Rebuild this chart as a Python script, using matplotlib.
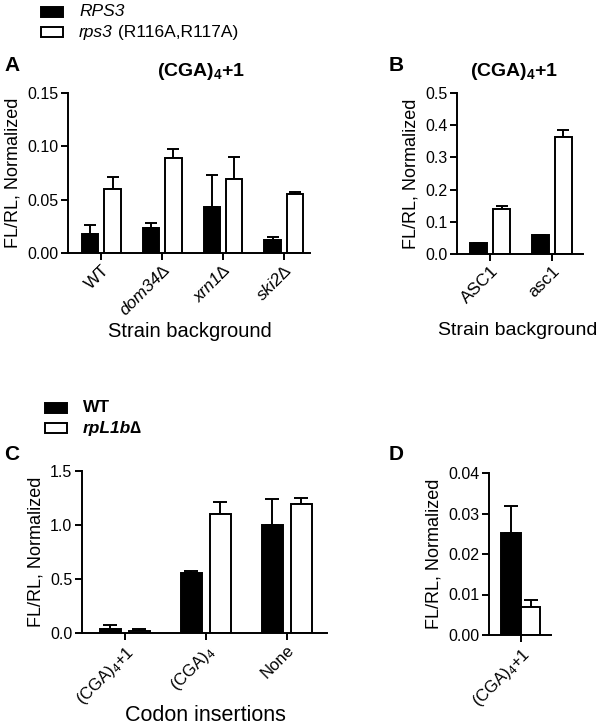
import matplotlib
matplotlib.use("Agg")
import matplotlib.pyplot as plt
from matplotlib.patches import Rectangle
from matplotlib.text import Annotation
import numpy as np

plt.rcParams['font.family'] = ['Liberation Sans', 'DejaVu Sans']
plt.rcParams['mathtext.fontset'] = 'custom'
plt.rcParams['mathtext.rm'] = 'Liberation Sans'
plt.rcParams['mathtext.it'] = 'Liberation Sans:italic'
plt.rcParams['mathtext.bf'] = 'Liberation Sans:bold'

# ---------------- data ----------------
a_categories = ["WT", "dom34∆", "xrn1∆", "ski2∆"]
a_italic = [False, True, True, True]
a_rps3_wt = [0.0175, 0.0235, 0.0435, 0.0125]
a_rps3_wt_err = [0.0088, 0.0045, 0.0295, 0.0022]
a_rps3_mut = [0.0600, 0.0886, 0.0690, 0.0554]
a_rps3_mut_err = [0.0117, 0.0088, 0.0210, 0.0022]

b_categories = ["ASC1", "asc1"]
b_rps3_wt = [0.034, 0.060]
b_rps3_wt_err = [0.0, 0.0]
b_rps3_mut = [0.140, 0.362]
b_rps3_mut_err = [0.008, 0.022]

c_categories = [r"(CGA)$_4$+1", r"(CGA)$_4$", "None"]
c_wt = [0.040, 0.557, 1.000]
c_wt_err = [0.037, 0.019, 0.245]
c_rpl1b = [0.019, 1.105, 1.198]
c_rpl1b_err = [0.015, 0.105, 0.050]

d_categories = [r"(CGA)$_4$+1"]
d_wt = [0.0252]
d_wt_err = [0.0066]
d_rpl1b = [0.00685]
d_rpl1b_err = [0.0018]

W, H = 600, 725
fig = plt.figure(figsize=(6, 7.25), dpi=100)


def add_ax(left, right, top, bottom):
    return fig.add_axes([left / W, 1 - bottom / H, (right - left) / W, (bottom - top) / H])


def fx(x):
    return x / W


def fy(y):
    return 1 - y / H


LW = 1.4


def style(ax, ylim, yticks, fmt):
    for s in ['top', 'right']:
        ax.spines[s].set_visible(False)
    for s in ['left', 'bottom']:
        ax.spines[s].set_linewidth(LW)
    ax.set_ylim(*ylim)
    ax.set_yticks(yticks)
    ax.set_yticklabels([fmt.format(v) for v in yticks], fontsize=11.5)
    ax.tick_params(axis='both', direction='out', length=5, width=LW, pad=2)
    ax.set_ylabel("FL/RL, Normalized", fontsize=13, labelpad=4)


def bars(ax, v1, e1, v2, e2, off, width, cap):
    x = np.arange(len(v1))
    ax.bar(x - off, v1, width, color='black', edgecolor='black', linewidth=LW, zorder=2)
    ax.bar(x + off, v2, width, color='white', edgecolor='black', linewidth=LW, zorder=2)
    ax.errorbar(x - off, v1, yerr=[np.zeros(len(v1)), e1], fmt='none', ecolor='black',
                elinewidth=LW, capsize=cap, capthick=LW, zorder=1)
    ax.errorbar(x + off, v2, yerr=[np.zeros(len(v2)), e2], fmt='none', ecolor='black',
                elinewidth=LW, capsize=cap, capthick=LW, zorder=1)
    return x


def xlabels(ax, x, labels, fs, italic=None):
    ax.set_xticks(x)
    tl = ax.set_xticklabels(labels, rotation=45, ha='right', rotation_mode='anchor', fontsize=fs)
    if italic:
        for t, it in zip(tl, italic):
            if it:
                t.set_fontstyle('italic')


# Panel A
axA = add_ax(68, 310, 93, 253)
xA = bars(axA, a_rps3_wt, a_rps3_wt_err, a_rps3_mut, a_rps3_mut_err, 0.184, 0.27, 4)
style(axA, (0, 0.15), [0, 0.05, 0.10, 0.15], "{:.2f}")
axA.set_xlim(-0.55, 3.43)
xlabels(axA, xA, a_categories, 12.5, a_italic)
axA.set_title(r"(CGA)$_\mathbf{4}$+1", fontsize=14, fontweight='bold', pad=12, x=0.55)
axA.set_xlabel("Strain background", fontsize=14.5)
axA.xaxis.set_label_coords(0.504, -0.43)

# Panel B
axB = add_ax(457, 583, 93, 254)
xB = bars(axB, b_rps3_wt, b_rps3_wt_err, b_rps3_mut, b_rps3_mut_err, 0.187, 0.28, 4)
style(axB, (0, 0.5), [0, 0.1, 0.2, 0.3, 0.4, 0.5], "{:.1f}")
axB.set_xlim(-0.54, 1.51)
xlabels(axB, xB, b_categories, 12.5)
axB.set_title(r"(CGA)$_\mathbf{4}$+1", fontsize=14, fontweight='bold', pad=12, x=0.45)
axB.set_xlabel("Strain background", fontsize=14)
axB.xaxis.set_label_coords(0.48, -0.425)

# Panel C
axC = add_ax(82, 327, 471, 633)
xC = bars(axC, c_wt, c_wt_err, c_rpl1b, c_rpl1b_err, 0.18, 0.26, 5)
style(axC, (0, 1.5), [0, 0.5, 1.0, 1.5], "{:.1f}")
axC.set_xlim(-0.53, 2.5)
xlabels(axC, xC, c_categories, 12)
axC.set_xlabel("Codon insertions", fontsize=15.5)
axC.xaxis.set_label_coords(0.502, -0.445)

# Panel D
axD = add_ax(489, 551, 473, 635)
xD = bars(axD, d_wt, d_wt_err, d_rpl1b, d_rpl1b_err, 0.32, 0.64, 5)
style(axD, (0, 0.04), [0, 0.01, 0.02, 0.03, 0.04], "{:.2f}")
axD.set_xlim(-1.02, 0.98)
xlabels(axD, xD, d_categories, 12)

# Panel letters
for lab, (px, py) in {"A": (4, 71), "B": (389, 71), "C": (4, 460), "D": (389, 460)}.items():
    fig.text(fx(px), fy(py), lab, fontsize=15, fontweight='bold', ha='left', va='baseline')


# Legends
def legend_item(x, y, filled, t1, style1, weight1, t2=None):
    fig.add_artist(Rectangle((fx(x), fy(y + 5)), 22 / W, 10 / H, transform=fig.transFigure,
                             facecolor='black' if filled else 'white', edgecolor='black', linewidth=LW))
    txt = fig.text(fx(x + 38), fy(y), t1, fontsize=12.5, ha='left', va='center',
                   fontstyle=style1, fontweight=weight1)
    if t2:
        fig.add_artist(Annotation(t2, xy=(1, 0.5), xycoords=txt, va='center', ha='left',
                                  fontsize=12.5))


legend_item(41, 12, True, "RPS3", 'italic', 'normal')
legend_item(41, 32, False, "rps3", 'italic', 'normal', " (R116A,R117A)")
legend_item(45, 408, True, "WT", 'normal', 'bold')
legend_item(45, 428, False, "rpL1b∆", 'italic', 'bold')

fig.savefig("out.png", dpi=100)
